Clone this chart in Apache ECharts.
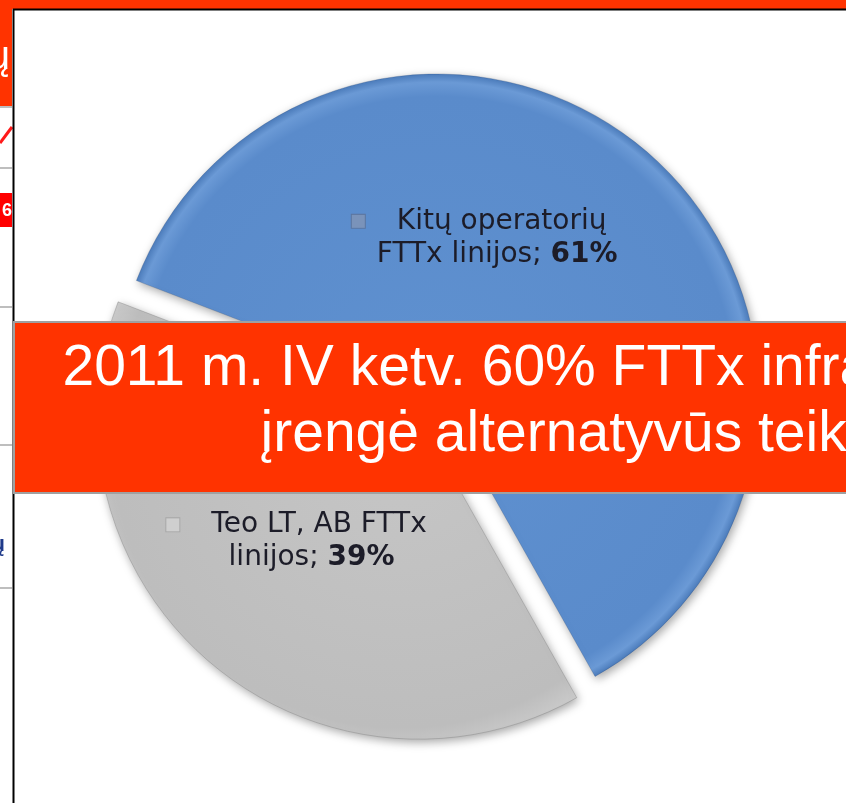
<!DOCTYPE html>
<html>
<head>
<meta charset="utf-8">
<title>FTTx linijos</title>
<script src="https://cdn.jsdelivr.net/npm/echarts@6/dist/echarts.min.js"></script>
<style>
  html, body { margin: 0; padding: 0; background: #fff; }
  #pieId { width: 846px; height: 803px; }
</style>
</head>
<body>
<div id="pieId"></div>
<script>
// 数据
var sliceNames = ['Kitų operatorių FTTx linijos', 'Teo LT, AB FTTx linijos'];
var sliceValues = [61, 39];
var labelFirst = ['Kitų operatorių', 'Teo LT, AB FTTx'];
var labelSecond = ['FTTx linijos; ', 'linijos; '];
var bannerLines = ['2011 m. IV ketv. 60% FTTx infrastruktūros', 'įrengė alternatyvūs teikėjai'];

var cx = 437, cy = 396, R = 322;

var blueFill = {
    type: 'radial', x: cx, y: cy, r: R, global: true,
    colorStops: [
        {offset: 0, color: '#5f91d0'},
        {offset: 0.93, color: '#5a8bcb'},
        {offset: 0.975, color: '#6b9ad6'},
        {offset: 1, color: '#4c7cbb'}
    ]
};
var grayFill = {
    type: 'radial', x: cx - 18, y: cy + 21, r: R, global: true,
    colorStops: [
        {offset: 0, color: '#c6c6c6'},
        {offset: 0.9, color: '#bdbdbd'},
        {offset: 0.97, color: '#c9c9c9'},
        {offset: 1, color: '#a2a2a2'}
    ]
};
var fills = [blueFill, grayFill];
var labelOffsets = [[-47, -34], [-26, -3]];

var pieData = sliceValues.map(function (v, i) {
    var item = {
        name: sliceNames[i],
        value: v,
        itemStyle: {color: fills[i]},
        label: {offset: labelOffsets[i]}
    };
    if (i === 1) {
        item.selected = true;
        item.select = {itemStyle: {color: grayFill, borderWidth: 0.5, borderColor: 'rgba(90,90,90,0.5)'}};
    }
    return item;
});

var pieChart = echarts.init(document.getElementById('pieId'));

var pieOption = {
    animation: false,
    backgroundColor: '#ffffff',
    series: [
        {
            type: 'pie',
            center: [cx, cy],
            radius: R,
            startAngle: 159,
            clockwise: true,
            selectedMode: 'single',
            selectedOffset: 28,
            emphasis: {disabled: true},
            itemStyle: {
                borderWidth: 0.5,
                borderColor: 'rgba(40,70,120,0.5)',
                shadowBlur: 10,
                shadowOffsetX: 2,
                shadowOffsetY: 3,
                shadowColor: 'rgba(0,0,0,0.35)'
            },
            label: {
                show: true,
                position: 'inside',
                align: 'center',
                formatter: function (p) {
                    var i = p.dataIndex;
                    return '{m' + i + '|}{s|}{t|' + labelFirst[i] + '}{g' + i + '|}\n' +
                        '{t|' + labelSecond[i] + '}{b|' + p.value + '%}';
                },
                rich: {
                    m0: {width: 13, height: 13, backgroundColor: '#7a93ba', borderColor: '#5b76a0', borderWidth: 1},
                    m1: {width: 13, height: 13, backgroundColor: '#cfcfcf', borderColor: '#a8a8a8', borderWidth: 1},
                    s: {width: 32},
                    g0: {width: 36},
                    g1: {width: 30},
                    t: {fontFamily: 'DejaVu Sans', fontSize: 28, color: '#1c1c28', lineHeight: 33},
                    b: {fontFamily: 'DejaVu Sans', fontSize: 28, fontWeight: 'bold', color: '#1c1c28', lineHeight: 33}
                }
            },
            labelLine: {show: false},
            data: pieData
        }
    ],
    graphic: {
        elements: [
            // 上方橙色条
            {type: 'rect', z: 100, shape: {x: 0, y: 0, width: 846, height: 9}, style: {fill: '#ff3300'}},
            // 左侧表格残片
            {type: 'rect', z: 100, shape: {x: 0, y: 0, width: 12, height: 106}, style: {fill: '#ff3300'}},
            {type: 'text', z: 101, style: {text: 'ų', x: 10, y: 58, align: 'right', verticalAlign: 'middle', fill: '#fff', font: '40px "Liberation Sans"'}},
            {type: 'line', z: 100, shape: {x1: 0, y1: 107, x2: 12, y2: 107}, style: {stroke: '#a8a8a8', lineWidth: 1.5}},
            {type: 'line', z: 100, shape: {x1: 0, y1: 143, x2: 12, y2: 127}, style: {stroke: '#ff1a1a', lineWidth: 3}},
            {type: 'line', z: 100, shape: {x1: 0, y1: 168, x2: 12, y2: 168}, style: {stroke: '#a8a8a8', lineWidth: 1.5}},
            {type: 'rect', z: 100, shape: {x: 0, y: 193, width: 12, height: 34}, style: {fill: '#ff0000'}},
            {type: 'text', z: 101, style: {text: '6', x: 12, y: 211, align: 'right', verticalAlign: 'middle', fill: '#fff', font: 'bold 18px "Liberation Sans"'}},
            {type: 'line', z: 100, shape: {x1: 0, y1: 307, x2: 12, y2: 307}, style: {stroke: '#a8a8a8', lineWidth: 1.5}},
            {type: 'line', z: 100, shape: {x1: 0, y1: 445, x2: 12, y2: 445}, style: {stroke: '#a8a8a8', lineWidth: 1.5}},
            {type: 'text', z: 101, style: {text: 'ų', x: 5, y: 545, align: 'right', verticalAlign: 'middle', fill: '#1f3a8a', font: 'bold 22px "Liberation Sans"'}},
            {type: 'line', z: 100, shape: {x1: 0, y1: 588, x2: 12, y2: 588}, style: {stroke: '#a8a8a8', lineWidth: 1.5}},
            // 黑色边框
            {type: 'line', z: 100, shape: {x1: 13, y1: 9.5, x2: 846, y2: 9.5}, style: {stroke: '#000', lineWidth: 2}},
            {type: 'line', z: 100, shape: {x1: 13.5, y1: 9, x2: 13.5, y2: 803}, style: {stroke: '#000', lineWidth: 2}},
            // 橙色横幅
            {type: 'rect', z: 100, shape: {x: 14, y: 322, width: 840, height: 171}, style: {fill: '#ff3300', stroke: '#a0a0a0', lineWidth: 2}},
            {type: 'text', z: 101, style: {text: bannerLines[0], x: 592, y: 369, align: 'center', verticalAlign: 'middle', fill: '#fff', font: '57px "Liberation Sans"'}},
            {type: 'text', z: 101, style: {text: bannerLines[1], x: 598, y: 435, align: 'center', verticalAlign: 'middle', fill: '#fff', font: '57px "Liberation Sans"'}}
        ]
    }
};

pieChart.setOption(pieOption);
</script>
</body>
</html>
